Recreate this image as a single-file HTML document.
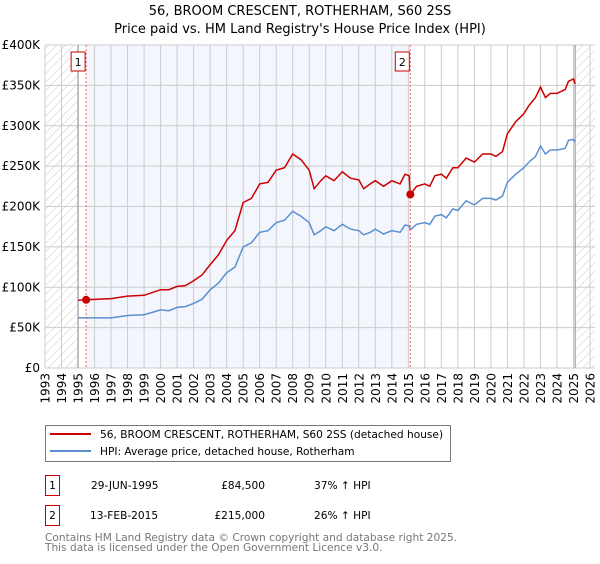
<!DOCTYPE html>
<html><head><meta charset="utf-8"><style>
body{margin:0;background:#fff;font-family:"DejaVu Sans","Liberation Sans",sans-serif;}
svg text{font-family:"DejaVu Sans","Liberation Sans",sans-serif;}
</style></head><body>
<svg id="c" width="600" height="560" xmlns="http://www.w3.org/2000/svg">
<defs><pattern id="h" width="6" height="6" patternUnits="userSpaceOnUse" patternTransform="rotate(45)"><line x1="0" y1="0" x2="0" y2="6" stroke="#bbb" stroke-width="0.8"/></pattern></defs>
<text x="300" y="15" text-anchor="middle" font-size="13">56, BROOM CRESCENT, ROTHERHAM, S60 2SS</text>
<text x="300" y="33" text-anchor="middle" font-size="13">Price paid vs. HM Land Registry's House Price Index (HPI)</text>
<g id="plot"></g>
<g>
<rect x="45.5" y="425.5" width="405" height="36" fill="#fff" stroke="#777"/>
<line x1="50" y1="434" x2="91" y2="434" stroke="#cc0000" stroke-width="2"/>
<text x="100" y="438" font-size="10.6">56, BROOM CRESCENT, ROTHERHAM, S60 2SS (detached house)</text>
<line x1="50" y1="451" x2="91" y2="451" stroke="#5b8fd0" stroke-width="2"/>
<text x="100" y="455" font-size="10.6">HPI: Average price, detached house, Rotherham</text>
</g>
<g font-size="10.6">
<rect x="45.5" y="475.5" width="14" height="20" fill="#fff" stroke="#cc0000"/><text x="52.5" y="489" text-anchor="middle">1</text>
<text x="91" y="489">29-JUN-1995</text><text x="265" y="489" text-anchor="end">£84,500</text><text x="314" y="489">37% ↑ HPI</text>
<rect x="45.5" y="505.5" width="14" height="20" fill="#fff" stroke="#cc0000"/><text x="52.5" y="519" text-anchor="middle">2</text>
<text x="90" y="519">13-FEB-2015</text><text x="265" y="519" text-anchor="end">£215,000</text><text x="314" y="519">26% ↑ HPI</text>
</g>
<text x="45" y="541" font-size="10.6" fill="#777">Contains HM Land Registry data © Crown copyright and database right 2025.</text>
<text x="45" y="551" font-size="10.6" fill="#777">This data is licensed under the Open Government Licence v3.0.</text>
</svg>
<script>
const years=[1995,1995.5,1996,1997,1998,1999,2000,2000.5,2001,2001.5,2002,2002.5,2003,2003.5,2004,2004.5,2005,2005.5,2006,2006.5,2007,2007.5,2008,2008.5,2009,2009.3,2009.7,2010,2010.5,2011,2011.5,2012,2012.3,2012.7,2013,2013.5,2014,2014.5,2014.8,2015.05,2015.12,2015.5,2016,2016.3,2016.6,2017,2017.3,2017.7,2018,2018.5,2019,2019.5,2020,2020.3,2020.7,2021,2021.5,2022,2022.3,2022.7,2023,2023.3,2023.6,2024,2024.5,2024.7,2025,2025.1];
const priceK=[84,84.5,85,86,89,90,97,97,101,102,108,115,128,140,158,170,205,210,228,230,245,248,265,258,245,222,232,238,232,243,235,233,222,228,232,225,232,228,240,238,215,225,228,225,238,240,235,248,248,260,255,265,265,262,268,290,305,315,325,335,348,335,340,340,345,355,358,352];
const hpiK=[62,62,62,62,65,66,72,71,75,76,80,85,97,105,118,125,150,155,168,170,180,183,194,188,180,165,170,175,170,178,172,170,165,168,172,166,170,168,177,176,171,178,180,178,188,190,186,197,195,207,202,210,210,208,213,230,240,248,255,262,275,265,270,270,272,282,283,280];
const yTicks=[0,50,100,150,200,250,300,350,400];
const yLabels=["£0","£50K","£100K","£150K","£200K","£250K","£300K","£350K","£400K"];
const sales=[{n:"1",t:1995.49,v:84.5},{n:"2",t:2015.12,v:215}];
const X0=45,X1=590,Y0=368,Y1=45;
const x=t=>X0+(t-1993)*(X1-X0)/33;
const y=v=>Y0-v*(Y0-Y1)/400;
const NS="http://www.w3.org/2000/svg",g=document.getElementById('plot');
function mk(tag,at,par){const e=document.createElementNS(NS,tag);for(const k in at)e.setAttribute(k,at[k]);(par||g).appendChild(e);return e;}
let e=mk('rect',{x:x(1995.49),y:Y1,width:x(2015.12)-x(1995.49),height:Y0-Y1,fill:'#f3f6fd'});

e=mk('rect',{x:X0,y:Y1,width:x(1995)-X0,height:Y0-Y1,fill:'url(#h)'});

e=mk('rect',{x:x(2025.1),y:Y1,width:595-x(2025.1),height:Y0-Y1,fill:'url(#h)'});

for(let yr=1993;yr<=2026;yr++){
 e=mk('line',{x1:x(yr),x2:x(yr),y1:Y1,y2:Y0,stroke:'#ccc','stroke-width':1});
 
 const lx=x(yr)+4.5;
 e=mk('text',{x:lx,y:373,'text-anchor':'end','font-size':12,transform:'rotate(-90 '+lx+' 373)'});
 e.textContent=yr;
 
}
yTicks.forEach((v,i)=>{
 e=mk('line',{x1:X0,x2:595,y1:y(v),y2:y(v),stroke:'#ccc','stroke-width':1});
 
 e=mk('text',{x:40,y:y(v)+4,'text-anchor':'end','font-size':12});
 e.textContent=yLabels[i];
 
});
e=mk('line',{x1:x(1995),x2:x(1995),y1:Y1,y2:Y0,stroke:'#888'});

e=mk('line',{x1:x(2025.1),x2:x(2025.1),y1:Y1,y2:Y0,stroke:'#888'});

function path(vals){return vals.map((v,i)=>(i?'L':'M')+x(years[i]).toFixed(1)+','+y(v).toFixed(1)).join('');}
e=mk('path',{d:path(hpiK),fill:'none',stroke:'#5b8fd0','stroke-width':1.5});

e=mk('path',{d:path(priceK),fill:'none',stroke:'#cc0000','stroke-width':1.5});

sales.forEach(s=>{
 e=mk('line',{x1:x(s.t),x2:x(s.t),y1:Y1,y2:Y0,stroke:'#e66','stroke-dasharray':'2,2'});
 
 e=mk('circle',{cx:x(s.t),cy:y(s.v),r:4,fill:'#cc0000'});
 
 e=mk('rect',{x:x(s.t)-15,y:52,width:14,height:19,fill:'#fff',stroke:'#cc0000'});
 
 e=mk('text',{x:x(s.t)-8,y:66,'text-anchor':'middle','font-size':11});
 e.textContent=s.n;
 
});
</script>
</body></html>
